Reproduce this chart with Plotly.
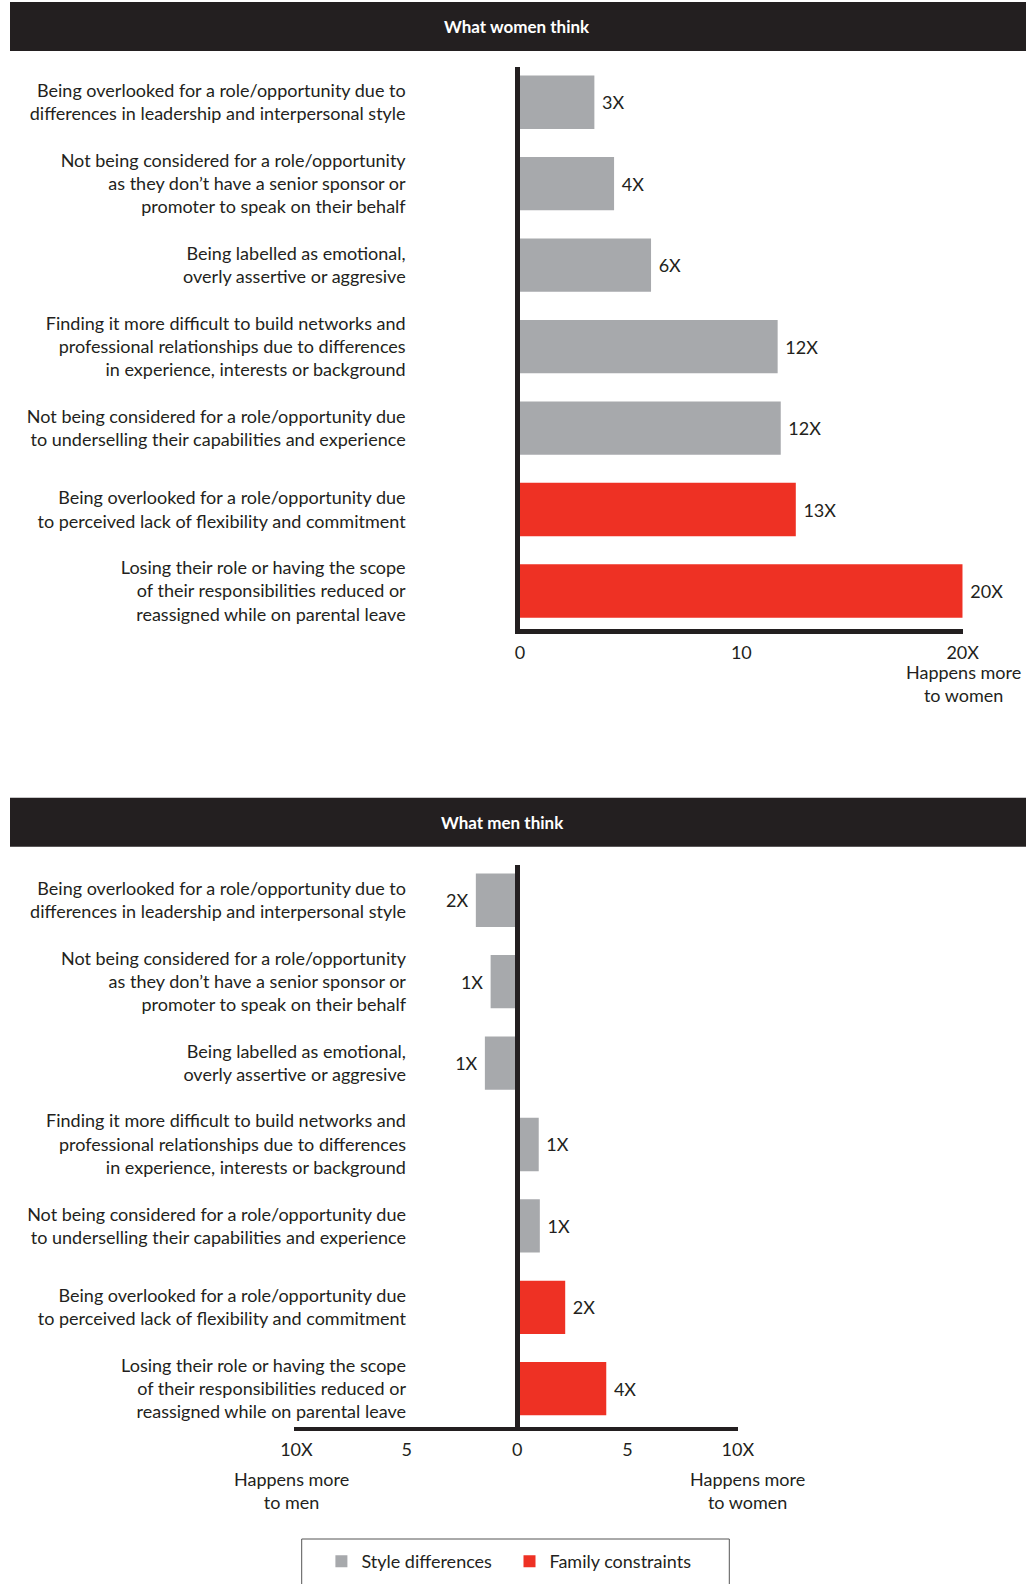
import plotly.graph_objects as go

# ---------------- data ----------------
categories = [
    "Being overlooked for a role/opportunity due to<br>differences in leadership and interpersonal style",
    "Not being considered for a role/opportunity<br>as they don’t have a senior sponsor or<br>promoter to speak on their behalf",
    "Being labelled as emotional,<br>overly assertive or aggresive",
    "Finding it more difficult to build networks and<br>professional relationships due to differences<br>in experience, interests or background",
    "Not being considered for a role/opportunity due<br>to underselling their capabilities and experience",
    "Being overlooked for a role/opportunity due<br>to perceived lack of flexibility and commitment",
    "Losing their role or having the scope<br>of their responsibilities reduced or<br>reassigned while on parental leave",
]
group = ["Style differences"] * 5 + ["Family constraints"] * 2

women_values = [3.36, 4.25, 5.92, 11.64, 11.78, 12.46, 20.0]
women_labels = ["3X", "4X", "6X", "12X", "12X", "13X", "20X"]

men_values = [-1.87, -1.2, -1.46, 0.98, 1.03, 2.18, 4.04]
men_labels = ["2X", "1X", "1X", "1X", "1X", "2X", "4X"]

women_ticks = [0, 10, 20]
women_ticktext = ["0", "10", "20X"]
men_ticks = [-10, -5, 0, 5, 10]
men_ticktext = ["10X", "5", "0", "5", "10X"]

panel_titles = ["What women think", "What men think"]
series_names = ["Style differences", "Family constraints"]

# ---------------- style ----------------
W, H = 1034, 1584
INK = "#231f20"
COLORS = {"Style differences": "#a7a9ac", "Family constraints": "#ee3124"}
LEGEND_ID = {"Style differences": "legend", "Family constraints": "legend2"}
FONT = "Lato"
FS = 18


def fx(p):
    return p / W


def fy(p):
    return 1 - p / H


fig = go.Figure()


def add_panel(values, labels, xa, ya, showlegend):
    for name in series_names:
        idx = [i for i, g in enumerate(group) if g == name]
        txt = []
        for i in idx:
            txt.append(" " + labels[i] if values[i] >= 0 else labels[i] + " ")
        fig.add_trace(go.Bar(
            orientation="h",
            y=[categories[i] for i in idx],
            x=[values[i] for i in idx],
            name=name,
            marker=dict(color=COLORS[name], line=dict(width=0)),
            width=0.655,
            text=txt,
            textposition="outside",
            constraintext="none",
            cliponaxis=False,
            textfont=dict(family=FONT, size=FS, color=INK),
            outsidetextfont=dict(family=FONT, size=FS, color=INK),
            xaxis=xa, yaxis=ya,
            showlegend=showlegend,
            legend=LEGEND_ID[name],
            hoverinfo="skip",
        ))


add_panel(women_values, women_labels, "x", "y", True)
add_panel(men_values, men_labels, "x2", "y2", False)

axis_common = dict(showgrid=False, zeroline=False, ticks="", linecolor=INK,
                   automargin=False,
                   tickfont=dict(family=FONT, size=FS, color=INK), fixedrange=True)

legend_common = dict(orientation="h", xanchor="left", yanchor="top",
                     y=fy(1543), borderwidth=0, bgcolor="rgba(0,0,0,0)",
                     font=dict(family=FONT, size=FS, color=INK),
                     itemclick=False, itemdoubleclick=False)

fig.update_layout(
    width=W, height=H,
    margin=dict(l=0, r=0, t=0, b=0, autoexpand=False),
    paper_bgcolor="white", plot_bgcolor="white",
    font=dict(family=FONT, size=FS, color=INK),
    barmode="overlay",
    xaxis=dict(domain=[fx(520), fx(962.7)], range=[0, 20], anchor="y",
               showline=True, linewidth=4.5, tickvals=women_ticks,
               ticktext=women_ticktext, ticklabelstandoff=4, **axis_common),
    yaxis=dict(domain=[fy(628.7), fy(66.7)], type="category",
               categoryorder="array", categoryarray=categories,
               range=[6.463, -0.436], anchor="x", showline=True, linewidth=4.5,
               ticklabelstandoff=106, **axis_common),
    xaxis2=dict(domain=[fx(294), fx(738)], range=[-10.11, 10.01], anchor="y2",
                showline=True, linewidth=4, tickvals=men_ticks,
                ticktext=men_ticktext, ticklabelstandoff=3, **axis_common),
    yaxis2=dict(domain=[fy(1427.3), fy(864.7)], type="category",
                categoryorder="array", categoryarray=categories,
                range=[6.474, -0.437], anchor="free", position=fx(517.3),
                showline=True, linewidth=4.5, ticklabelstandoff=106,
                **axis_common),
    legend=dict(x=fx(321.4), **legend_common),
    legend2=dict(x=fx(509.5), **legend_common),
)

# legend frame
fig.add_shape(type="rect", xref="paper", yref="paper",
              x0=fx(301.7), x1=fx(729.3), y0=fy(1600), y1=fy(1539),
              fillcolor="rgba(0,0,0,0)", line=dict(color="#555555", width=1))

# header bars
for (y0, y1), title, xc in zip([(2, 51), (797.7, 846.7)], panel_titles, [517, 502]):
    fig.add_shape(type="rect", xref="paper", yref="paper",
                  x0=fx(10), x1=fx(1026), y0=fy(y1), y1=fy(y0),
                  fillcolor=INK, line=dict(width=0), layer="below")
    fig.add_annotation(xref="paper", yref="paper", x=fx(xc), y=fy((y0 + y1) / 2),
                       text="<b>" + title + "</b>", showarrow=False,
                       xanchor="center", yanchor="middle",
                       font=dict(family=FONT, size=17, color="white"))

# axis end notes
for xc, yc, txt in [(963.5, 683.4, "Happens more<br>to women"),
                    (291.7, 1490.3, "Happens more<br>to men"),
                    (747.5, 1490.3, "Happens more<br>to women")]:
    fig.add_annotation(xref="paper", yref="paper", x=fx(xc), y=fy(yc),
                       text=txt, showarrow=False, xanchor="center",
                       yanchor="middle", align="center",
                       font=dict(family=FONT, size=FS, color=INK))

fig.write_html("out.html",
               config={"displayModeBar": False},
               post_script="document.body.style.margin='0px';"
                           "document.body.style.overflow='hidden';")
